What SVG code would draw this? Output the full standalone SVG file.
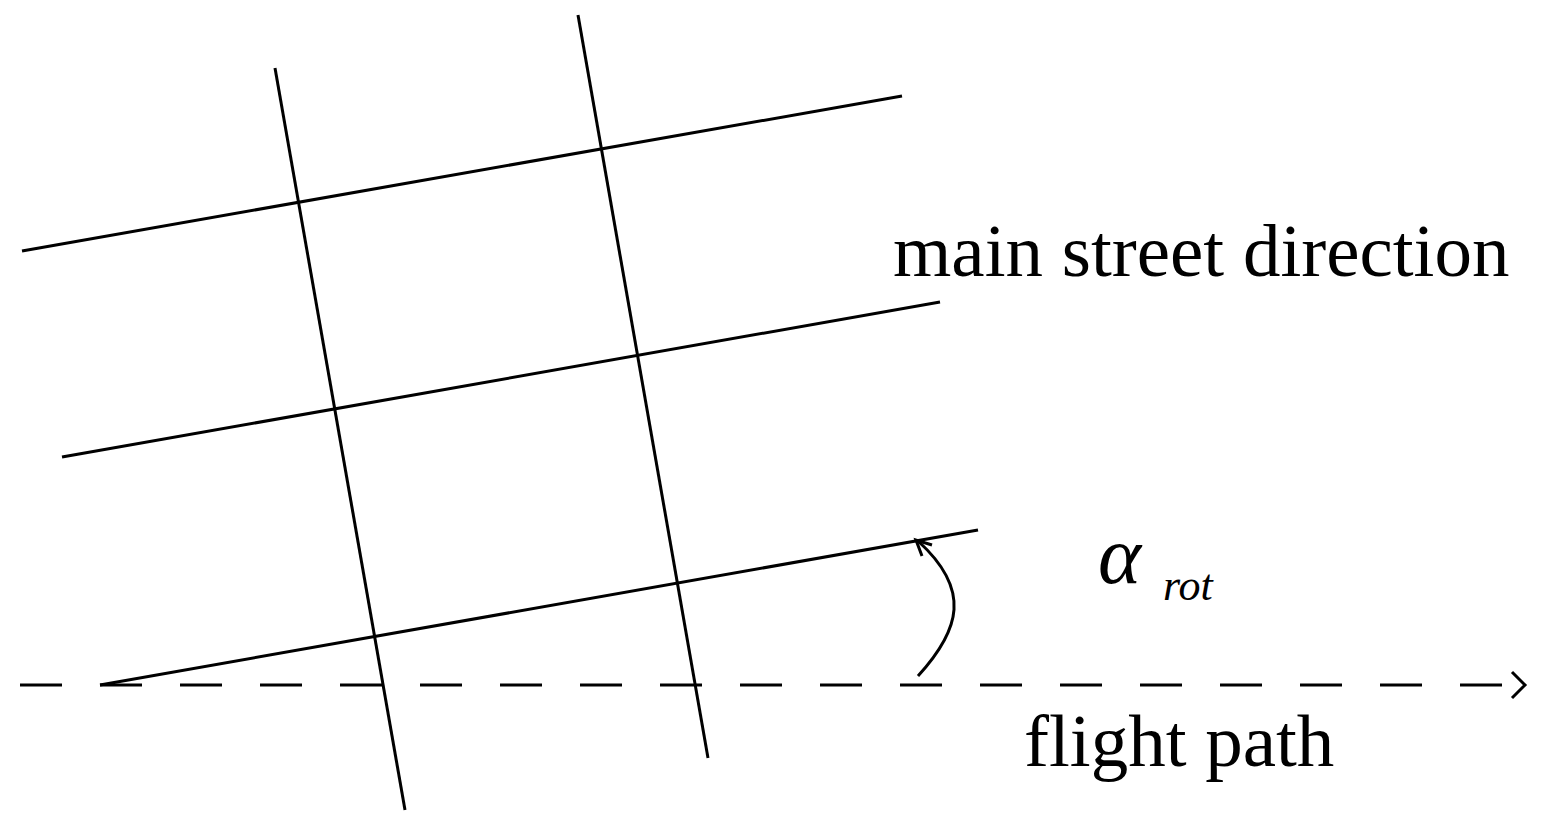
<svg xmlns="http://www.w3.org/2000/svg" width="1553" height="828" viewBox="0 0 1553 828">
<style>
.l{stroke:#000;stroke-width:3;fill:none}
.t{font-family:"Liberation Serif",serif;fill:#000}
</style>
<rect width="1553" height="828" fill="#fff"/>
<g id="grid">
<line class="l" x1="22" y1="251" x2="902" y2="96"/>
<line class="l" x1="62" y1="457" x2="940" y2="302"/>
<line class="l" x1="100" y1="685" x2="978" y2="530"/>
<line class="l" x1="275" y1="68" x2="405" y2="810"/>
<line class="l" x1="578" y1="15" x2="708" y2="758"/>
</g>
<g id="connectors">
<line class="l" x1="20" y1="685" x2="1525" y2="685" stroke-dasharray="42,38"/>
<polyline class="l" points="1512,672 1525,685 1512,698"/>
<path class="l" d="M918,676 C960,630 972,590 918,541"/>
<polyline class="l" points="922,556 916,540 932,545"/>
</g>
<text class="t" x="893" y="276" font-size="75">main street direction</text>
<text class="t" x="1024" y="766" font-size="75">flight path</text>
<text class="t" x="1098" y="583" font-size="82" font-style="italic">α</text>
<text class="t" x="1163" y="600" font-size="44" font-style="italic">rot</text>
</svg>
